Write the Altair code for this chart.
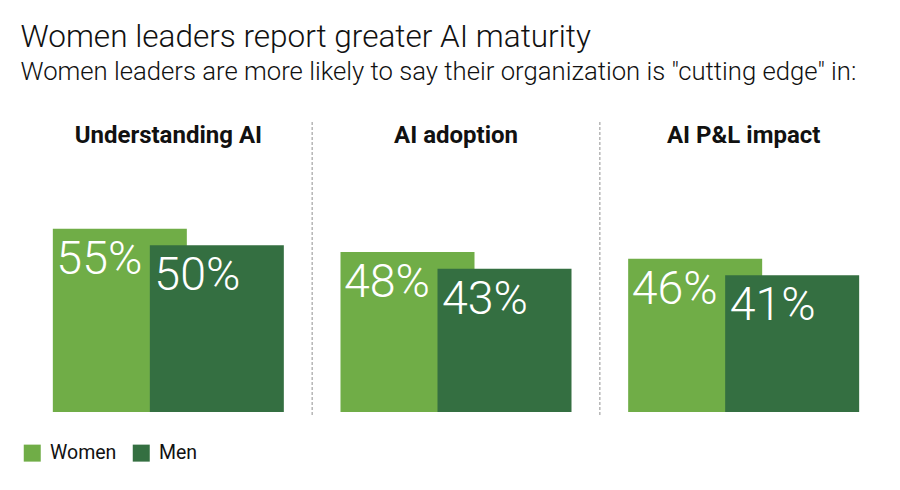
import altair as alt
import pandas as pd

categories = ["Understanding AI", "AI adoption", "AI P&L impact"]
women = [55, 48, 46]
men = [50, 43, 41]
groups = ["Women", "Men"]
colors = ["#70AD47", "#346F41"]

rows = []
for c, w, m in zip(categories, women, men):
    rows.append({"category": c, "gender": "Women", "value": w, "label": f"{w}%"})
    rows.append({"category": c, "gender": "Men", "value": m, "label": f"{m}%"})
df = pd.DataFrame(rows)

W, H = 863, 290
BAR_W = 134
SHIFT = 48.5

x_enc = alt.X("category:N", sort=categories,
              scale=alt.Scale(paddingInner=0, paddingOuter=0), axis=None)
y_enc = alt.Y("value:Q", scale=alt.Scale(domain=[0, 87]), axis=None)
color_enc = alt.Color(
    "gender:N",
    scale=alt.Scale(domain=groups, range=colors),
    legend=alt.Legend(
        title=None, orient="none", legendX=-2, legendY=321,
        direction="horizontal", symbolType="square", symbolSize=289,
        symbolStrokeWidth=0, symbolOpacity=1,
        labelFont="Roboto", labelFontSize=19.5, labelColor="#111",
        labelOffset=8, columnPadding=15,
    ),
)

base = alt.Chart(df)

bars_w = base.transform_filter(alt.datum.gender == "Women").mark_bar(
    width=BAR_W, xOffset=-SHIFT, opacity=1
).encode(x=x_enc, y=y_enc, color=color_enc)

bars_m = base.transform_filter(alt.datum.gender == "Men").mark_bar(
    width=BAR_W, xOffset=SHIFT, opacity=1
).encode(x=x_enc, y=y_enc, color=color_enc)

text_style = dict(align="left", baseline="top", font="Roboto", fontSize=46.5,
                  fontWeight=300, color="white", dy=8)

labels_w = base.transform_filter(alt.datum.gender == "Women").mark_text(
    xOffset=-SHIFT - BAR_W / 2 + 3.5, **text_style
).encode(x=x_enc, y=y_enc, text="label:N")

labels_m = base.transform_filter(alt.datum.gender == "Men").mark_text(
    xOffset=SHIFT - BAR_W / 2 + 4.5, **text_style
).encode(x=x_enc, y=y_enc, text="label:N")

cat_df = pd.DataFrame({"category": categories})

headers = alt.Chart(cat_df).mark_text(
    font="Roboto", fontSize=24, fontWeight="bold", color="#111",
    baseline="alphabetic", align="center"
).encode(x=x_enc, y=alt.value(21), text="category:N")

separators = alt.Chart(cat_df.iloc[1:]).mark_rule(
    color="#aaaaaa", strokeDash=[3, 2], strokeWidth=1.3
).encode(
    x=alt.X("category:N", sort=categories, bandPosition=0,
            scale=alt.Scale(paddingInner=0, paddingOuter=0), axis=None),
    y=alt.value(0), y2=alt.value(H + 3),
)

chart = alt.layer(
    separators, bars_w, bars_m, labels_w, labels_m, headers
).properties(
    width=W, height=H,
    background="white",
    title=alt.Title(
        "Women leaders report greater AI maturity",
        subtitle='Women leaders are more likely to say their organization is "cutting edge" in:',
        anchor="start", font="Roboto", fontSize=31.5, fontWeight=300, color="#111",
        subtitleFont="Roboto", subtitleFontSize=25.7, subtitleFontWeight=300,
        subtitleColor="#111", subtitlePadding=6, offset=37, dx=-2,
    ),
    autosize=alt.AutoSizeParams(type="none"),
    padding={"left": 24.5, "top": 122, "right": 12.5, "bottom": 78},
).configure_view(strokeWidth=0, stroke=None)

chart.save("out.html", embed_options={"renderer": "svg", "actions": False})
